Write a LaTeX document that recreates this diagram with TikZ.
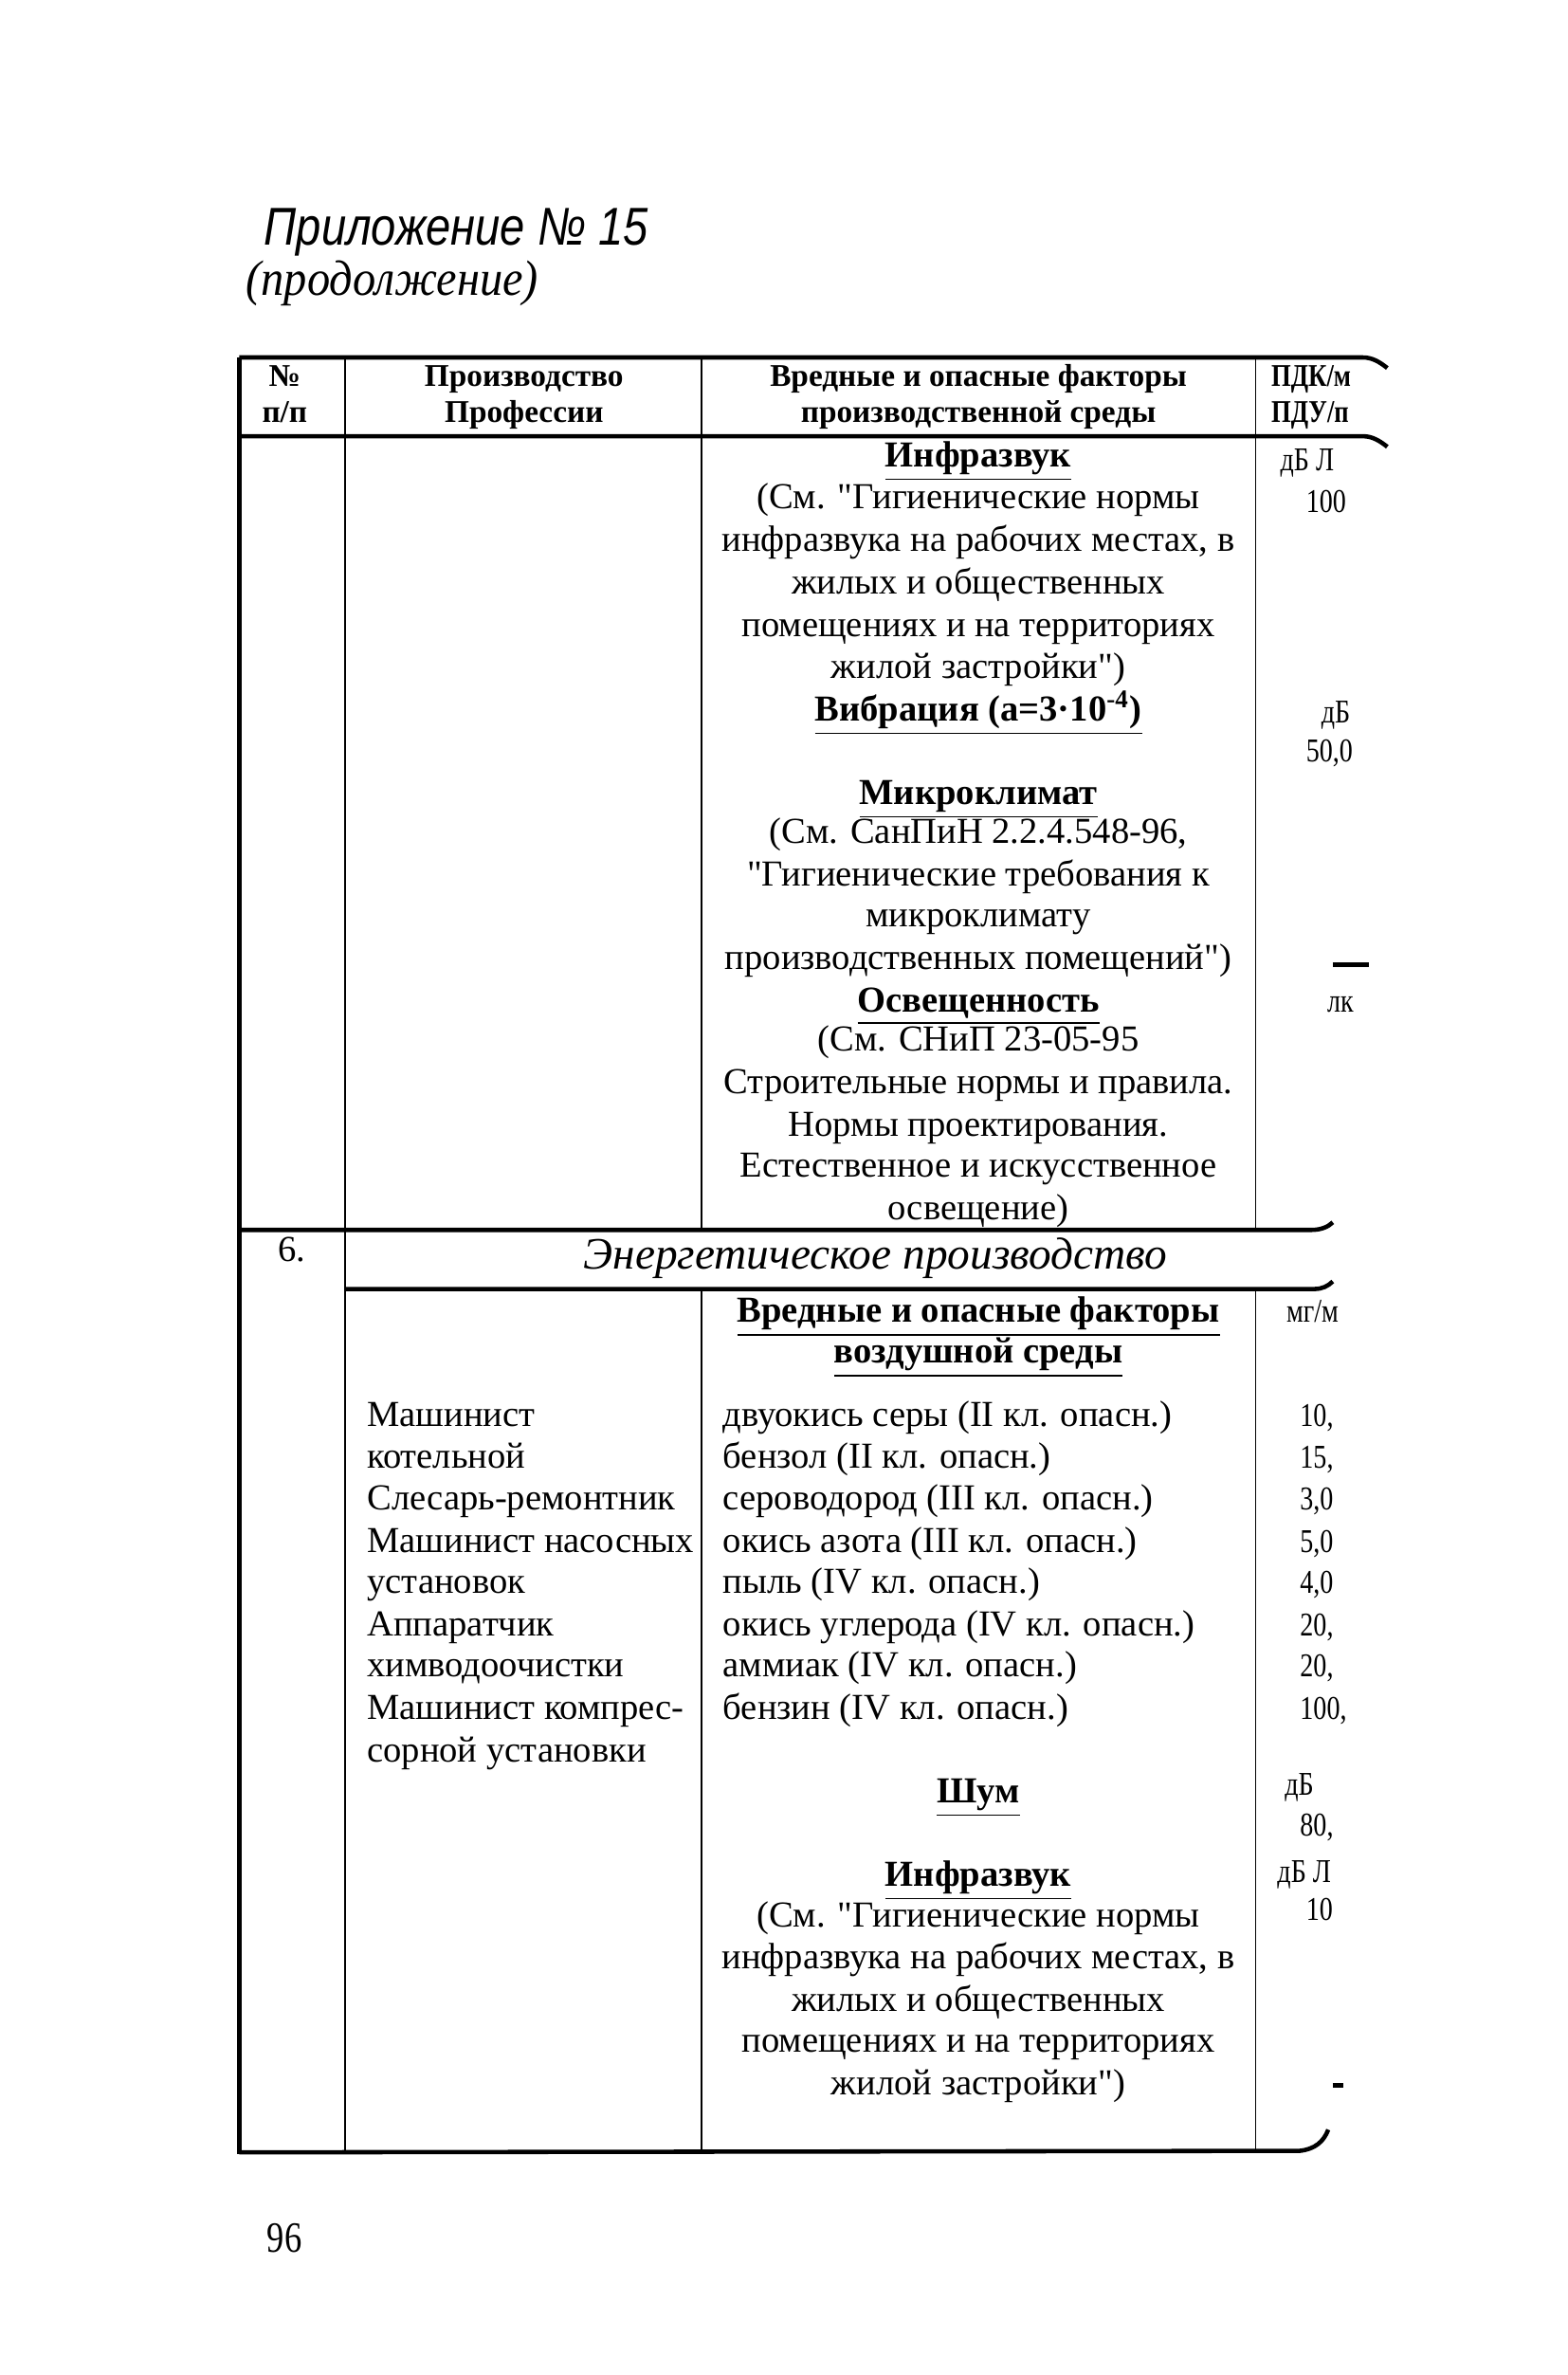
\documentclass[tikz,border=0pt]{standalone}
\usepackage{fontspec}
\setmainfont{Liberation Serif}
\newfontfamily\titlesans[FakeStretch=0.84]{Liberation Sans}
\newfontfamily\subtitleserif[FakeStretch=0.92]{Liberation Serif}
\newfontfamily\condserif[FakeStretch=0.8]{Liberation Serif}
\newfontfamily\quoteserif[Ligatures=TeXOff]{Liberation Serif}
\begin{document}
\begin{tikzpicture}[x=0.016cm,y=-0.016cm,
  heavy/.style={line width=1.3pt},
  light/.style={line width=0.5pt},
  body/.style={inner sep=0pt, font=\fontsize{11}{12.5}\selectfont},
  bodyc/.style={body, anchor=mid},
  bodyl/.style={body, anchor=mid west},
  cut/.style={inner sep=0pt, anchor=mid west, font=\fontsize{10}{12}\selectfont\condserif},
  cutb/.style={cut, font=\fontsize{9.5}{11}\selectfont\condserif\bfseries},
  hdr/.style={inner sep=0pt, anchor=mid, font=\fontsize{9.5}{11}\selectfont\bfseries},
  sect/.style={inner sep=0pt, anchor=mid, font=\fontsize{13.5}{16}\selectfont\itshape}]
\newcommand{\hd}[1]{\underline{\textbf{#1}}}
\newcommand{\qq}{{\quoteserif"}}
\useasboundingbox[fill=white] (0,0) rectangle (1035,1568);

% title
\node[inner sep=0pt, anchor=mid west, font=\fontsize{16}{18}\selectfont\titlesans\itshape] (title) at (174,157) {Приложение № 15};
\node[inner sep=0pt, anchor=mid west, font=\fontsize{15}{17}\selectfont\subtitleserif\itshape] (subtitle) at (162,190) {(продолжение)};

% table lines
\draw[heavy] (158,236) -- (900,236) .. controls (906,236) and (911,239) .. (916,243);
\draw[heavy] (158,288) -- (900,288) .. controls (906,288) and (911,291) .. (916,295);
\draw[heavy] (158,812) -- (866,812) .. controls (872,812) and (877,810) .. (880,807);
\draw[heavy] (228,851) -- (868,851) .. controls (873,851) and (877,849) .. (880,846);
\draw[heavy] (158,1421) -- (858,1420) .. controls (868,1419) and (874,1414) .. (877,1406);
\draw[heavy] (158,236) -- (158,1422);
\draw[light] (228,236) -- (228,1421);
\draw[light] (463,236) -- (463,812);
\draw[light] (463,851) -- (463,1421);
\draw[light] (829,236) -- (829,812);
\draw[light] (829,851) -- (829,1421);

% header
\node[hdr] (h1a) at (188,250) {№};
\node[hdr] (h1b) at (188,274) {п/п};
\node[hdr] (h2a) at (346,250) {Производство};
\node[hdr] (h2b) at (346,274) {Профессии};
\node[hdr] (h3a) at (646,250) {Вредные и опасные факторы};
\node[hdr] (h3b) at (646,274) {производственной среды};
\node[cutb] (h4a) at (839,250) {ПДК/м};
\node[cutb] (h4b) at (839,274) {ПДУ/п};

% row 1, column 3 text
\foreach \yy/\tt [count=\i] in {
  303/{\hd{Инфразвук}},
  331/{(См. \qq Гигиенические нормы},
  359/{инфразвука на рабочих местах, в},
  387/{жилых и общественных},
  415/{помещениях и на территориях},
  443/{жилой застройки\qq)},
  471/{\hd{Вибрация (а=3·10\textsuperscript{-4})}},
  526/{\hd{Микроклимат}},
  552/{(См. СанПиН 2.2.4.548-96,},
  580/{\qq Гигиенические требования к},
  607/{микроклимату},
  635/{производственных помещений\qq)},
  663/{\hd{Освещенность}},
  689/{(См. СНиП 23-05-95},
  717/{Строительные нормы и правила.},
  745/{Нормы проектирования.},
  772/{Естественное и искусственное},
  800/{освещение)}}
  \node[bodyc] (ra\i) at (646,\yy) {\tt};

% row 1, last column (cut off at the page edge)
\node[cut] (v1) at (845,306) {дБ Л};
\node[cut] (v2) at (862,333) {100};
\node[cut] (v3) at (872,472) {дБ};
\node[cut] (v4) at (862,498) {50,0};
\node[cut] (v5) at (876,663) {лк};
\draw[line width=1.4pt] (880,637) -- (904,637);

% row 2
\node[bodyl] (num6) at (183,828) {6.};
\node[sect] (sect6) at (578,833) {Энергетическое производство};
\node[bodyc] (rb1) at (646,868) {\hd{Вредные и опасные факторы}};
\node[bodyc] (rb2) at (646,895) {\hd{воздушной среды}};
\node[cut] (w0) at (849,868) {мг/м};

\foreach \yy/\tt [count=\i] in {
  937/{Машинист}, 964/{котельной}, 992/{Слесарь-ремонтник},
  1020/{Машинист насосных}, 1047/{установок}, 1075/{Аппаратчик},
  1102/{химводоочистки}, 1130/{Машинист компрес-}, 1158/{сорной установки}}
  \node[bodyl] (prof\i) at (242,\yy) {\tt};

\foreach \yy/\tt [count=\i] in {
  937/{двуокись серы (II кл. опасн.)}, 964/{бензол (II кл. опасн.)},
  992/{сероводород (III кл. опасн.)}, 1020/{окись азота (III кл. опасн.)},
  1047/{пыль (IV кл. опасн.)}, 1075/{окись углерода (IV кл. опасн.)},
  1102/{аммиак (IV кл. опасн.)}, 1130/{бензин (IV кл. опасн.)}}
  \node[bodyl] (fac\i) at (477,\yy) {\tt};

\foreach \yy/\tt [count=\i] in {937/{10,}, 964/{15,}, 992/{3,0}, 1020/{5,0}, 1047/{4,0}, 1075/{20,}, 1102/{20,}, 1130/{100,}}
  \node[cut] (w\i) at (858,\yy) {\tt};

\foreach \yy/\tt [count=\i] in {
  1185/{\hd{Шум}},
  1240/{\hd{Инфразвук}},
  1267/{(См. \qq Гигиенические нормы},
  1295/{инфразвука на рабочих местах, в},
  1323/{жилых и общественных},
  1350/{помещениях и на территориях},
  1378/{жилой застройки\qq)}}
  \node[bodyc] (rc\i) at (646,\yy) {\tt};

\node[cut] (x1) at (848,1180) {дБ};
\node[cut] (x2) at (858,1207) {80,};
\node[cut] (x3) at (843,1238) {дБ Л};
\node[cut] (x4) at (862,1263) {10};
\draw[line width=1.4pt] (880,1377) -- (887,1377);

% page number
\node[inner sep=0pt, anchor=mid west, font=\fontsize{13}{15}\selectfont\condserif] (page) at (176,1482) {96};
\end{tikzpicture}
\end{document}
